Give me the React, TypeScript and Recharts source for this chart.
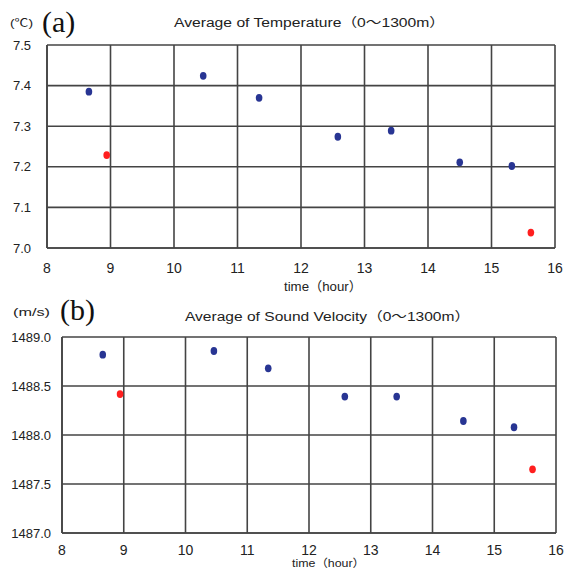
import { ScatterChart, Scatter, XAxis, YAxis, CartesianGrid } from "recharts";

// time (hour) of each cast
const timeBlue = [8.66, 10.46, 11.34, 12.58, 13.42, 14.5, 15.32];
const timeRed = [8.94, 15.62];

// (a) average temperature 0-1300m
const tempBlue = [7.385, 7.424, 7.37, 7.274, 7.289, 7.211, 7.202];
const tempRed = [7.229, 7.038];

// (b) average sound velocity 0-1300m
const velBlue = [1488.82, 1488.857, 1488.68, 1488.392, 1488.392, 1488.143, 1488.079];
const velRed = [1488.418, 1487.65];

const xTicks = [8, 9, 10, 11, 12, 13, 14, 15, 16];
const tempTicks = [7.0, 7.1, 7.2, 7.3, 7.4, 7.5];
const velTicks = [1487.0, 1487.5, 1488.0, 1488.5, 1489.0];

const BLUE = "#283593";
const RED = "#ff1f1f";
const GRID = "#444";
const TEXT = "#222";
const SANS = "'Liberation Sans', Arial, 'Noto Sans CJK JP', sans-serif";
const SERIF = "'Liberation Serif', 'Times New Roman', serif";

const pts = (xs: number[], ys: number[]) => xs.map((x, i) => ({ x, y: ys[i] }));

const Dot = (color: string) => (p: any) => (
  <ellipse cx={p.cx} cy={p.cy} rx={3.3} ry={3.9} fill={color} />
);

function Panel(props: {
  height: number;
  margin: { top: number; right: number; left: number; bottom: number };
  yWidth: number;
  yTicks: number[];
  yDomain: [number, number];
  yMargin: number;
  xMargin: number;
  blue: number[];
  red: number[];
}) {
  const { height, margin, yWidth, yTicks, yDomain, yMargin, xMargin, blue, red } = props;
  return (
    <ScatterChart width={567} height={height} margin={margin}>
      <CartesianGrid stroke={GRID} strokeWidth={1.6} />
      <XAxis
        type="number"
        dataKey="x"
        domain={[8, 16]}
        ticks={xTicks}
        interval={0}
        height={30}
        tickSize={0}
        tickMargin={xMargin}
        axisLine={{ stroke: GRID, strokeWidth: 1.6 }}
        tick={{ fill: TEXT, fontSize: 14, fontFamily: SANS }}
      />
      <YAxis
        type="number"
        dataKey="y"
        domain={yDomain}
        ticks={yTicks}
        interval={0}
        width={yWidth}
        tickSize={0}
        tickMargin={yMargin}
        axisLine={{ stroke: GRID, strokeWidth: 1.6 }}
        tickFormatter={(v: number) => v.toFixed(1)}
        tick={{ fill: TEXT, fontSize: 13, fontFamily: SANS }}
      />
      <Scatter data={pts(timeBlue, blue)} shape={Dot(BLUE)} isAnimationActive={false} />
      <Scatter data={pts(timeRed, red)} shape={Dot(RED)} isAnimationActive={false} />
    </ScatterChart>
  );
}

export default function App() {
  return (
    <div style={{ position: "absolute", left: 0, top: 0, width: 567, height: 570, background: "#fff", overflow: "hidden" }}>
      <div style={{ position: "absolute", left: 0, top: 0 }}>
        <Panel
          height={300}
          margin={{ top: 45, right: 12, left: 0, bottom: 22 }}
          yWidth={47}
          yTicks={tempTicks}
          yDomain={[7.0, 7.5]}
          yMargin={16}
          xMargin={15}
          blue={tempBlue}
          red={tempRed}
        />
      </div>
      <div style={{ position: "absolute", left: 0, top: 290 }}>
        <Panel
          height={280}
          margin={{ top: 47, right: 11, left: 0, bottom: 7 }}
          yWidth={62}
          yTicks={velTicks}
          yDomain={[1487.0, 1489.0]}
          yMargin={11}
          xMargin={12}
          blue={velBlue}
          red={velRed}
        />
      </div>

      {/* headings and axis titles */}
      <svg width={567} height={570} style={{ position: "absolute", left: 0, top: 0, pointerEvents: "none" }}>
        <text x={10} y={27} fontSize={11} fontFamily={SANS} fill={TEXT} textLength={23} lengthAdjust="spacingAndGlyphs">(℃)</text>
        <text x={42} y={32} fontSize={30} fontFamily={SERIF} fill="#111">(a)</text>
        <text x={174} y={27} fontSize={12.5} fontFamily={SANS} fill={TEXT} textLength={271} lengthAdjust="spacingAndGlyphs">
          Average of Temperature（0～1300m）
        </text>
        <text x={284} y={291} fontSize={13} fontFamily={SANS} fill={TEXT} textLength={78} lengthAdjust="spacingAndGlyphs">
          time（hour）
        </text>

        <text x={13} y={316} fontSize={11} fontFamily={SANS} fill={TEXT} textLength={37} lengthAdjust="spacingAndGlyphs">(m/s)</text>
        <text x={60} y={320} fontSize={30} fontFamily={SERIF} fill="#111">(b)</text>
        <text x={185} y={321} fontSize={12.5} fontFamily={SANS} fill={TEXT} textLength={285} lengthAdjust="spacingAndGlyphs">
          Average of Sound Velocity（0～1300m）
        </text>
        <text x={292} y={567} fontSize={11} fontFamily={SANS} fill={TEXT} textLength={73} lengthAdjust="spacingAndGlyphs">
          time（hour）
        </text>
      </svg>
    </div>
  );
}
